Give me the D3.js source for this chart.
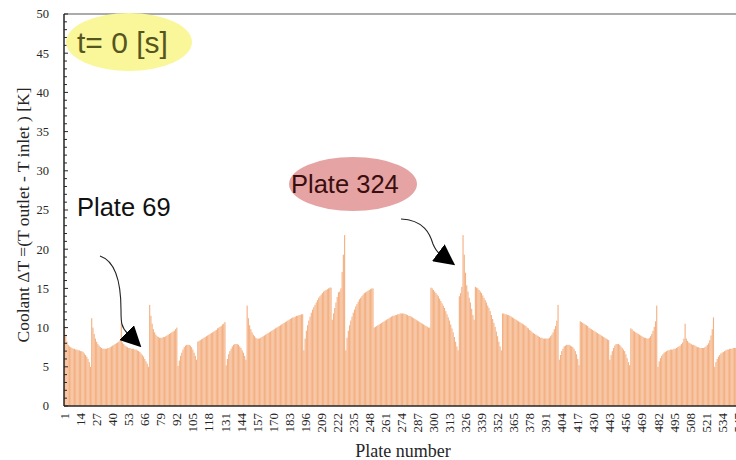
<!DOCTYPE html>
<html>
<head>
<meta charset="utf-8">
<script src="https://cdn.jsdelivr.net/npm/d3@7"></script>
<style>
  body { margin: 0; background: #fff; }
  svg { display: block; }
</style>
</head>
<body>
<svg id="chart" width="736" height="460"></svg>
<script>
// Coolant delta T per plate (plates 1..547)
const coolantDeltaT = [
  10.2, 9.0, 8.2, 7.8, 7.6, 7.5, 7.4, 7.3, 7.3, 7.2, 7.2, 7.1, 7.1, 7.0, 7.0, 6.9, 6.7, 6.5, 6.3, 6.0, 5.6, 5.0,
  11.2, 10.0, 9.2, 8.6, 8.2, 7.9, 7.7, 7.5, 7.4, 7.3, 7.3, 7.3, 7.3, 7.4, 7.4, 7.5, 7.6, 7.7, 7.8, 7.9, 8.0, 8.1, 8.2, 8.4, 10.6,
  8.1, 7.9, 7.7, 7.6, 7.5, 7.4, 7.4, 7.3, 7.3, 7.3, 7.2, 7.2, 7.1, 7.0, 6.9, 6.7, 6.5, 6.3, 6.0, 5.7, 5.4, 5.0,
  12.9, 11.5, 10.5, 9.8, 9.4, 9.1, 8.9, 8.8, 8.7, 8.7, 8.7, 8.8, 8.8, 8.9, 9.0, 9.1, 9.2, 9.3, 9.4, 9.5, 9.6, 9.8, 10.0,
  5.1, 5.8, 6.4, 6.8, 7.2, 7.5, 7.7, 7.8, 7.8, 7.8, 7.7, 7.5, 7.2, 6.8, 6.4, 5.9,
  8.2, 8.3, 8.4, 8.5, 8.6, 8.7, 8.8, 8.9, 9.0, 9.1, 9.2, 9.3, 9.4, 9.5, 9.6, 9.7, 9.9, 10.0, 10.1, 10.2, 10.4, 10.5, 10.7,
  5.2, 6.0, 6.6, 7.0, 7.3, 7.6, 7.8, 7.9, 7.9, 7.9, 7.8, 7.6, 7.4, 7.1, 6.8, 6.4, 5.9,
  12.8, 11.2, 10.3, 9.8, 9.4, 9.1, 8.9, 8.7, 8.6, 8.6, 8.6, 8.7, 8.8, 8.9, 9.0, 9.1, 9.2, 9.3, 9.4, 9.5, 9.6, 9.7, 9.8,
  9.9, 10.0, 10.1, 10.2, 10.3, 10.4, 10.5, 10.6, 10.7, 10.8, 10.9, 11.0, 11.1, 11.2, 11.3, 11.3, 11.4, 11.5, 11.5, 11.6, 11.6, 11.7, 11.7,
  7.1, 8.6, 9.6, 10.3, 10.9, 11.4, 11.9, 12.3, 12.6, 12.9, 13.2, 13.5, 13.8, 14.0, 14.2, 14.4, 14.6, 14.7, 14.8, 14.9, 15.0, 15.1, 15.1,
  11.0, 11.8, 12.5, 13.2, 13.9, 14.5, 14.6, 15.0, 17.1, 19.3, 21.8,
  7.1, 8.7, 9.6, 10.3, 10.9, 11.4, 11.9, 12.3, 12.7, 13.0, 13.3, 13.6, 13.8, 14.0, 14.2, 14.4, 14.5, 14.6, 14.7, 14.8, 14.9, 15.0, 15.0,
  10.0, 10.1, 10.2, 10.3, 10.4, 10.5, 10.6, 10.7, 10.8, 10.9, 11.0, 11.1, 11.2, 11.3, 11.4, 11.5, 11.5, 11.6, 11.6, 11.7, 11.7, 11.8, 11.8,
  11.8, 11.8, 11.7, 11.7, 11.6, 11.5, 11.5, 11.4, 11.3, 11.2, 11.1, 11.0, 10.9, 10.8, 10.7, 10.6, 10.5, 10.4, 10.3, 10.2, 10.1, 10.0, 10.0,
  15.1, 15.0, 14.8, 14.6, 14.4, 14.2, 14.0, 13.7, 13.4, 13.1, 12.8, 12.5, 12.1, 11.7, 11.3, 10.9, 10.4, 9.9, 9.4, 8.8, 8.2, 7.6, 7.1,
  14.0, 14.4, 15.2, 21.8, 19.3, 17.0, 15.4, 14.6, 13.8, 13.2, 12.4, 11.6, 11.0,
  15.2, 15.1, 15.0, 14.8, 14.6, 14.4, 14.1, 13.8, 13.5, 13.2, 12.8, 12.5, 12.1, 11.6, 11.1, 10.6, 10.1, 9.5, 8.9, 8.2, 7.6, 7.1,
  11.8, 11.8, 11.7, 11.7, 11.6, 11.6, 11.5, 11.4, 11.3, 11.2, 11.1, 11.0, 10.9, 10.8, 10.7, 10.6, 10.5, 10.4, 10.3, 10.2, 10.0, 9.9, 9.7,
  9.6, 9.4, 9.3, 9.2, 9.1, 9.0, 8.9, 8.8, 8.7, 8.7, 8.6, 8.6, 8.6, 8.6, 8.6, 8.7, 8.9, 9.1, 9.4, 9.8, 10.2, 10.9, 12.9,
  5.9, 6.5, 7.0, 7.3, 7.6, 7.7, 7.8, 7.8, 7.8, 7.7, 7.6, 7.5, 7.3, 7.0, 6.6, 6.0, 5.2,
  10.8, 10.7, 10.6, 10.5, 10.4, 10.3, 10.2, 10.0, 9.9, 9.8, 9.7, 9.6, 9.5, 9.4, 9.3, 9.2, 9.1, 9.0, 8.9, 8.8, 8.7, 8.6, 8.5, 8.4,
  5.9, 6.5, 7.0, 7.4, 7.7, 7.9, 7.9, 7.9, 7.8, 7.6, 7.4, 7.2, 7.0, 6.6, 6.1, 5.6, 5.2,
  9.9, 9.8, 9.6, 9.5, 9.4, 9.3, 9.2, 9.1, 9.0, 8.9, 8.8, 8.7, 8.7, 8.6, 8.6, 8.7, 8.9, 9.2, 9.6, 10.1, 10.8, 12.8,
  5.0, 5.7, 6.1, 6.4, 6.6, 6.8, 6.9, 7.0, 7.1, 7.1, 7.2, 7.2, 7.2, 7.3, 7.3, 7.4, 7.5, 7.6, 7.7, 7.9, 8.1, 8.6, 10.5,
  8.6, 8.3, 8.1, 8.0, 7.9, 7.8, 7.8, 7.7, 7.6, 7.5, 7.5, 7.4, 7.4, 7.4, 7.4, 7.5, 7.6, 7.8, 8.0, 8.4, 9.0, 9.8, 11.3,
  5.0, 5.6, 6.0, 6.3, 6.5, 6.7, 6.8, 6.9, 7.0, 7.1, 7.2, 7.2, 7.3, 7.3, 7.3, 7.4, 7.4, 7.4, 7.5, 7.5
];
const plates = coolantDeltaT.map((v, i) => i + 1);

// Tick labels
const plateTicks = [1, 14, 27, 40, 53, 66, 79, 92, 105, 118, 131, 144, 157, 170, 183, 196, 209, 222,
  235, 248, 261, 274, 287, 300, 313, 326, 339, 352, 365, 378, 391, 404, 417, 430, 443, 456, 469,
  482, 495, 508, 521, 534, 547];
const yTicks = [0, 5, 10, 15, 20, 25, 30, 35, 40, 45, 50];
const yMinorTicks = d3.range(0, 51, 1);

// Layout
const plotLeft = 64, plotTop = 14, plotBottom = 406;
const step = 1.2335;

const svg = d3.select("#chart");

const x = d3.scaleBand()
  .domain(plates)
  .range([plotLeft, plotLeft + plates.length * step])
  .paddingInner(0.08)
  .paddingOuter(0);

const y = d3.scaleLinear()
  .domain([0, 50])
  .range([plotBottom, plotTop]);

// Bars
svg.append("g")
  .selectAll("rect")
  .data(plates)
  .enter()
  .append("rect")
    .attr("x", d => x(d))
    .attr("width", x.bandwidth())
    .attr("y", d => y(coolantDeltaT[d - 1]))
    .attr("height", d => y(0) - y(coolantDeltaT[d - 1]))
    .attr("fill", "#F4B183");

// Frame: top line, left axis, bottom axis
svg.append("line")
  .attr("x1", plotLeft).attr("x2", 736).attr("y1", plotTop).attr("y2", plotTop)
  .attr("stroke", "#595959").attr("stroke-width", 1.2);
svg.append("line")
  .attr("x1", plotLeft).attr("x2", plotLeft).attr("y1", plotTop).attr("y2", plotBottom)
  .attr("stroke", "#262626").attr("stroke-width", 1.5);
svg.append("line")
  .attr("x1", plotLeft).attr("x2", 736).attr("y1", plotBottom).attr("y2", plotBottom)
  .attr("stroke", "#262626").attr("stroke-width", 1.5);

// Y ticks (inside) and labels
svg.append("g")
  .selectAll("line")
  .data(yMinorTicks)
  .enter()
  .append("line")
    .attr("x1", plotLeft)
    .attr("x2", d => plotLeft + (d % 5 === 0 ? 4 : 3))
    .attr("y1", d => y(d)).attr("y2", d => y(d))
    .attr("stroke", "#262626").attr("stroke-width", 1);

svg.append("g")
  .selectAll("text")
  .data(yTicks)
  .enter()
  .append("text")
    .attr("x", 49)
    .attr("y", d => y(d))
    .attr("dy", "0.35em")
    .attr("text-anchor", "end")
    .attr("font-family", "'Liberation Serif', 'Times New Roman', serif")
    .attr("font-size", 12.5)
    .attr("fill", "#262626")
    .text(d => d);

// X tick labels, rotated (the last one runs off the right edge, as in the source)
svg.append("g")
  .selectAll("text")
  .data(plateTicks)
  .enter()
  .append("text")
    .attr("transform", d => "translate(" + (x(d) + x.bandwidth() / 2) + "," + 413 + ") rotate(-90)")
    .attr("dy", "0.35em")
    .attr("text-anchor", "end")
    .attr("font-family", "'Liberation Serif', 'Times New Roman', serif")
    .attr("font-size", 13)
    .attr("fill", "#262626")
    .text(d => d);

// Axis titles
svg.append("text")
  .attr("transform", "translate(29,215) rotate(-90)")
  .attr("text-anchor", "middle")
  .attr("font-family", "'Liberation Serif', 'Times New Roman', serif")
  .attr("font-size", 17.5)
  .attr("fill", "#262626")
  .text("Coolant \u0394T =(T outlet - T inlet ) [K]");

svg.append("text")
  .attr("x", 403).attr("y", 457)
  .attr("text-anchor", "middle")
  .attr("font-family", "'Liberation Serif', 'Times New Roman', serif")
  .attr("font-size", 18)
  .attr("fill", "#262626")
  .text("Plate number");

// Annotations
svg.append("ellipse")
  .attr("cx", 129).attr("cy", 42).attr("rx", 63).attr("ry", 29)
  .attr("fill", "#FAF79A");
svg.append("text")
  .attr("x", 77).attr("y", 53)
  .attr("font-family", "'Liberation Sans', Arial, sans-serif")
  .attr("font-size", 30)
  .attr("fill", "#55551E")
  .text("t= 0 [s]");

svg.append("ellipse")
  .attr("cx", 353).attr("cy", 184).attr("rx", 64).attr("ry", 27)
  .attr("fill", "#E6A3A3");
svg.append("text")
  .attr("x", 291).attr("y", 193)
  .attr("font-family", "'Liberation Sans', Arial, sans-serif")
  .attr("font-size", 25.5)
  .attr("fill", "#3A0E0E")
  .text("Plate 324");

svg.append("text")
  .attr("x", 77).attr("y", 216)
  .attr("font-family", "'Liberation Sans', Arial, sans-serif")
  .attr("font-size", 25.5)
  .attr("fill", "#111")
  .text("Plate 69");

// Arrow heads
svg.append("defs").append("marker")
  .attr("id", "head")
  .attr("viewBox", "0 0 10 10")
  .attr("refX", 1).attr("refY", 5)
  .attr("markerWidth", 21).attr("markerHeight", 21)
  .attr("markerUnits", "userSpaceOnUse")
  .attr("orient", "auto")
  .append("path")
    .attr("d", "M0,0 L10,5 L0,10 Z")
    .attr("fill", "#000");

svg.append("path")
  .attr("d", "M100,256 C118,262 121,290 121,310 C121,322 121,327 128,334")
  .attr("fill", "none").attr("stroke", "#222").attr("stroke-width", 1.1)
  .attr("marker-end", "url(#head)");

svg.append("path")
  .attr("d", "M401,219 C424,220 430,234 433,244 C435,249 436,251 440,254")
  .attr("fill", "none").attr("stroke", "#222").attr("stroke-width", 1.1)
  .attr("marker-end", "url(#head)");
</script>
</body>
</html>
